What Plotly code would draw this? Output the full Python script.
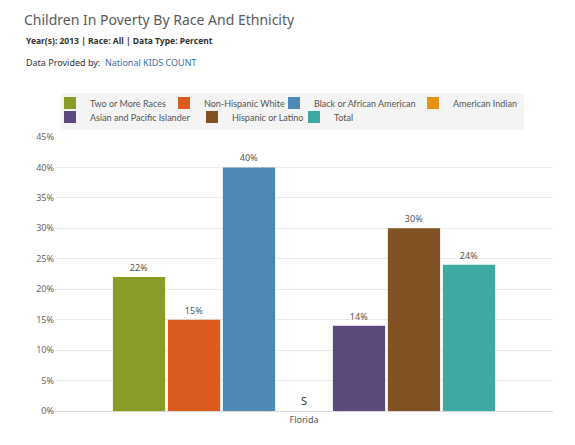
import plotly.graph_objects as go

categories = ["Florida"]
series = ["Two or More Races", "Non-Hispanic White", "Black or African American",
          "American Indian", "Asian and Pacific Islander", "Hispanic or Latino", "Total"]
values = [22, 15, 40, 0, 14, 30, 24]
labels = ["22%", "15%", "40%", "S", "14%", "30%", "24%"]
colors = ["#8a9c25", "#dc5c20", "#4f88b3", "#e8930f", "#5d4a7d", "#815324", "#3ea8a2"]

FONT = "Noto Sans"
W, H = 575, 445
ML, MR, MT, MB = 55, 22, 137, 34
PW, PH = W - ML - MR, H - MT - MB

def px_x(x):
    return (x - ML) / PW

def px_y(y):
    return (H - MB - y) / PH

# legend entry swatch centres (pixels) in reference layout
leg_pos = [(70, 103), (184, 103), (294, 103), (433, 103),
           (70, 117), (212, 117), (314, 117)]

fig = go.Figure()
layout_legends = {}
for i, (name, v, lab, c) in enumerate(zip(series, values, labels, colors)):
    is_s = lab == "S"
    lg = "legend" if i == 0 else f"legend{i+1}"
    fig.add_trace(go.Bar(
        x=categories, y=[v], name=name, marker_color=c, marker_line_width=0,
        text=[lab], textposition="outside", cliponaxis=False,
        textfont=dict(size=11 if is_s else 9, color="#333" if is_s else "#555", family=FONT),
        legend=lg,
    ))
    cx, cy = leg_pos[i]
    layout_legends[lg] = dict(
        x=px_x(cx - 20), xanchor="left", y=px_y(cy), yanchor="middle",
        bgcolor="rgba(0,0,0,0)", font=dict(size=9, color="#555", family="Lato"),
        itemwidth=30, orientation="h",
    )

# rounded legend background box
x0, x1 = px_x(61), px_x(524)
y0, y1 = px_y(130), px_y(93)
rx, ry = 4 / PW, 4 / PH
path = (f"M{x0+rx},{y1} L{x1-rx},{y1} Q{x1},{y1} {x1},{y1-ry} L{x1},{y0+ry} "
        f"Q{x1},{y0} {x1-rx},{y0} L{x0+rx},{y0} Q{x0},{y0} {x0},{y0+ry} "
        f"L{x0},{y1-ry} Q{x0},{y1} {x0+rx},{y1} Z")

fig.update_layout(
    width=W, height=H,
    margin=dict(l=ML, r=MR, t=MT, b=MB),
    paper_bgcolor="white", plot_bgcolor="white",
    font=dict(family=FONT, color="#555"),
    barmode="group", bargap=0.227, bargroupgap=0.05,
    title=dict(text="Children In Poverty By Race And Ethnicity", x=24/W, xanchor="left",
               y=1 - 20/H, yanchor="middle", font=dict(size=14, color="#5a5a5a", family=FONT)),
    showlegend=True,
    yaxis=dict(range=[0, 45], dtick=5, ticksuffix="%", gridcolor="#ececec",
               tickfont=dict(size=9, color="#666"), zeroline=False, fixedrange=True),
    xaxis=dict(showline=True, linecolor="#d9d9d9", tickfont=dict(size=9, color="#555"),
               ticks=""),
    shapes=[dict(type="path", path=path, xref="paper", yref="paper",
                 fillcolor="#f4f4f4", line=dict(width=0), layer="below")],
    annotations=[
        dict(text="<b>Year(s): 2013 | Race: All | Data Type: Percent</b>", xref="paper", yref="paper",
             x=px_x(24), y=px_y(40), xanchor="left", yanchor="middle", showarrow=False,
             font=dict(size=8.5, color="#333", family=FONT)),
        dict(text="Data Provided by:  <span style='color:#3b6ea5'>National KIDS COUNT</span>",
             xref="paper", yref="paper",
             x=px_x(24), y=px_y(62), xanchor="left", yanchor="middle", showarrow=False,
             font=dict(size=9, color="#333", family=FONT)),
    ],
    **layout_legends,
)

fig.write_html("out.html")
